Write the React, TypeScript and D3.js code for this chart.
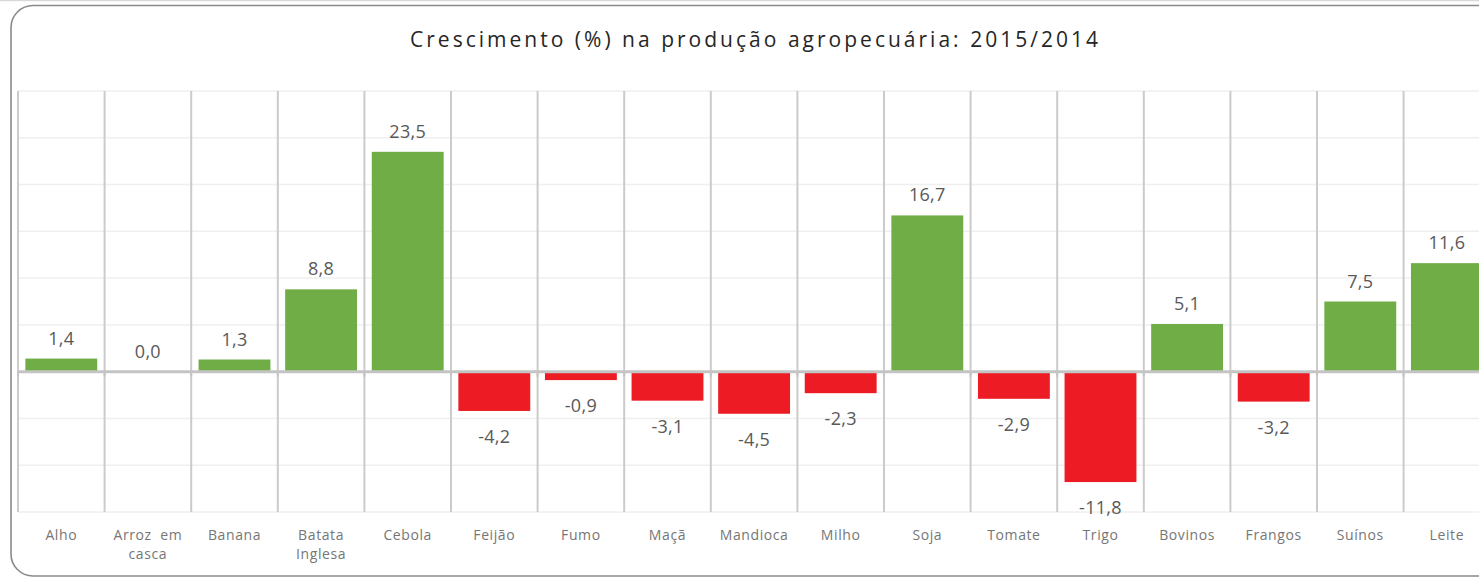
import React from "react";
import * as d3 from "d3";

const categories: string[][] = [
  ["Alho"], ["Arroz  em", "casca"], ["Banana"], ["Batata", "Inglesa"], ["Cebola"],
  ["Feijão"], ["Fumo"], ["Maçã"], ["Mandioca"], ["Milho"], ["Soja"], ["Tomate"],
  ["Trigo"], ["Bovinos"], ["Frangos"], ["Suínos"], ["Leite"],
];
const values: number[] = [1.4, 0.0, 1.3, 8.8, 23.5, -4.2, -0.9, -3.1, -4.5, -2.3, 16.7, -2.9, -11.8, 5.1, -3.2, 7.5, 11.6];
const yTicks: number[] = [-15, -10, -5, 0, 5, 10, 15, 20, 25, 30];
const title = "Crescimento (%) na produção agropecuária:  2015/2014";

const W = 1479;
const H = 577;

export default function App() {
  const plotLeft = 18;
  const band = 86.6;
  const x = d3
    .scaleBand<number>()
    .domain(d3.range(categories.length))
    .range([plotLeft, plotLeft + band * categories.length])
    .paddingInner(0.17)
    .paddingOuter(0.085);
  const y = d3.scaleLinear().domain([-15, 30]).range([512, 91]);
  const boundaries = d3.range(categories.length + 1).map((i) => plotLeft + i * band);
  const fmt = (v: number) => v.toFixed(1).replace(".", ",");
  const font = "'Open Sans', 'Liberation Sans', sans-serif";

  return (
    <div style={{ position: "absolute", left: 0, top: 0 }}>
      <svg width={W} height={H} style={{ display: "block" }}>
        <rect x={0} y={0} width={W} height={H} fill="#ffffff" />
        <line x1={0} x2={W} y1={0.5} y2={0.5} stroke="#d9d9d9" strokeWidth={1.5} />
        <rect x={11} y={5.5} width={W + 40} height={H - 6.5} rx={22} ry={22} fill="#ffffff" stroke="#8a8a8a" strokeWidth={1.6} />
        <text
          x={754}
          y={47}
          textAnchor="middle"
          fontFamily={font}
          fontSize={21}
          fill="#262626"
          textLength={688}
          lengthAdjust="spacing"
        >
          {title}
        </text>
        {yTicks.filter((t) => t !== 0).map((t) => (
          <line key={t} x1={plotLeft} x2={W} y1={y(t)} y2={y(t)} stroke="#efefef" strokeWidth={1.5} />
        ))}
        {boundaries.map((bx, i) => (
          <line key={i} x1={bx} x2={bx} y1={y(30)} y2={y(-15)} stroke="#cbcbcb" strokeWidth={2} />
        ))}
        {values.map((v, i) => (
          <rect
            key={i}
            x={x(i)!}
            y={v >= 0 ? y(v) : y(0)}
            width={x.bandwidth()}
            height={Math.abs(y(v) - y(0))}
            fill={v >= 0 ? "#70ad47" : "#ed1c24"}
          />
        ))}
        <line x1={plotLeft} x2={W} y1={y(0)} y2={y(0)} stroke="#c4c4c4" strokeWidth={3} />
        {boundaries.map((bx, i) => (
          <line key={"t" + i} x1={bx} x2={bx} y1={y(0)} y2={y(0) + 5} stroke="#c4c4c4" strokeWidth={2} />
        ))}
        {values.map((v, i) => (
          <text
            key={"l" + i}
            x={x(i)! + x.bandwidth() / 2}
            y={v >= 0 ? y(v) - 14 : y(v) + 32}
            textAnchor="middle"
            fontFamily={font}
            fontSize={18}
            letterSpacing={0.3}
            fill="#595959"
          >
            {fmt(v)}
          </text>
        ))}
        {categories.map((lines, i) => (
          <text
            key={"c" + i}
            x={x(i)! + x.bandwidth() / 2}
            y={540}
            textAnchor="middle"
            fontFamily={font}
            fontSize={14}
            letterSpacing={0.6}
            fill="#767676"
            style={{ whiteSpace: "pre" }}
          >
            {lines.map((ln, j) => (
              <tspan key={j} x={x(i)! + x.bandwidth() / 2} dy={j === 0 ? 0 : 19}>
                {ln}
              </tspan>
            ))}
          </text>
        ))}
      </svg>
    </div>
  );
}
